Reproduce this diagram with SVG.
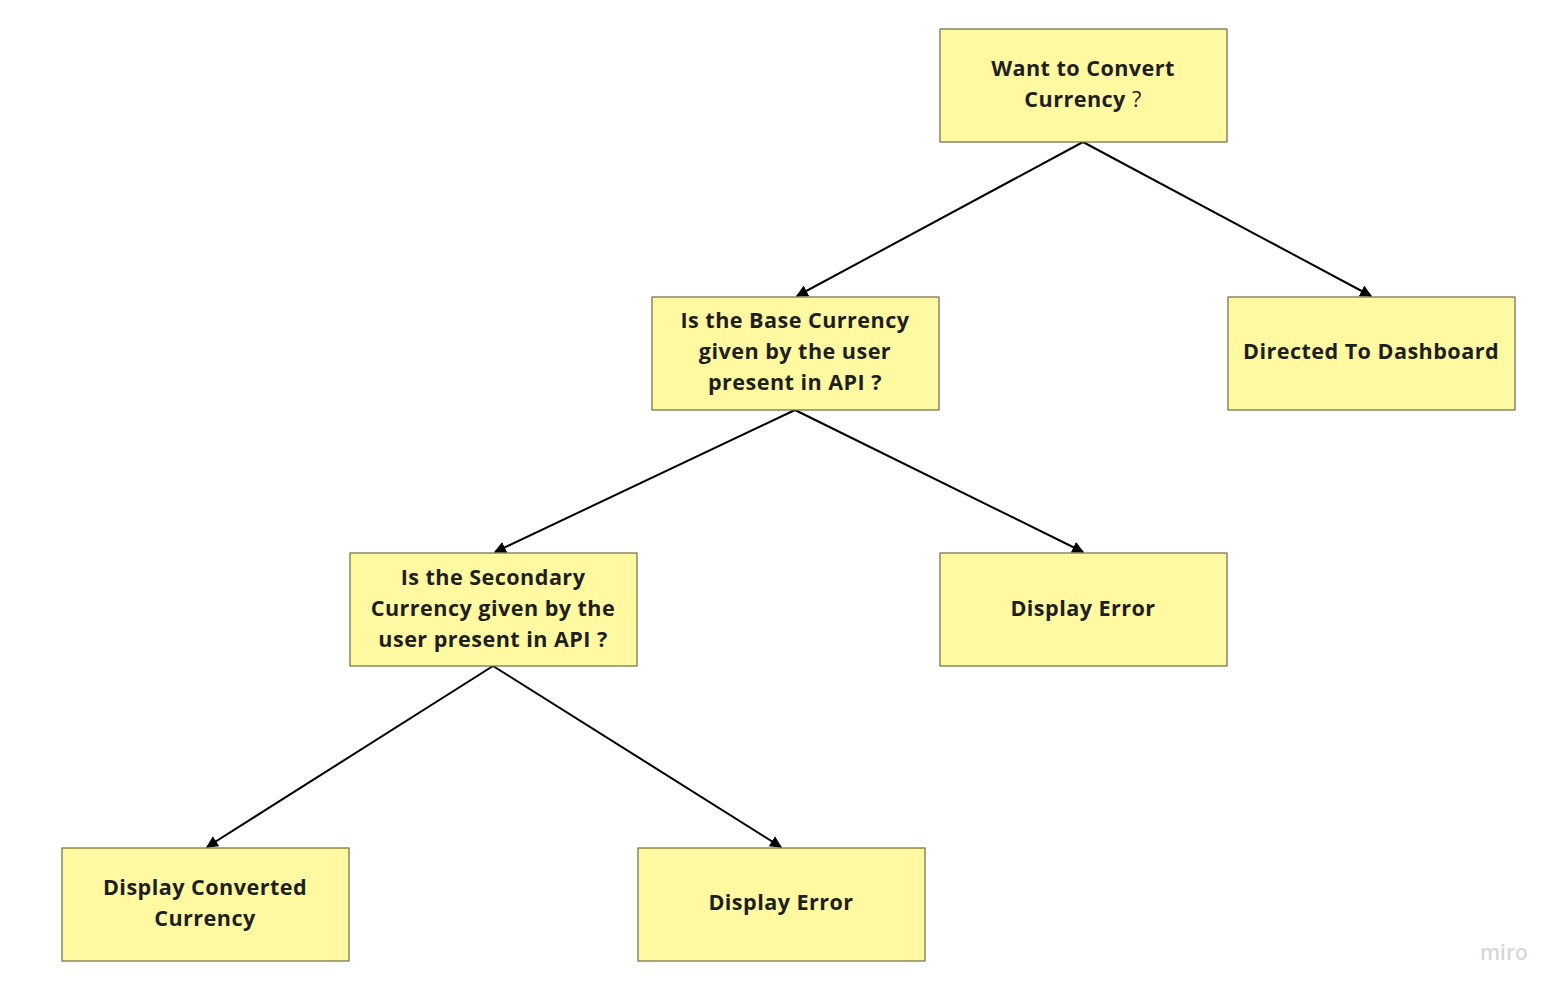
<svg xmlns="http://www.w3.org/2000/svg" width="1567" height="997" viewBox="0 0 1567 997">
<style>
.box{fill:#fff9a1;stroke:#6f6c45;stroke-width:1.2}
.t{font-family:"Open Sans","Noto Sans",sans-serif;font-weight:700;font-size:21.6px;fill:#1f1f1f;text-anchor:middle;letter-spacing:0.45px}
.q{font-weight:400}
.c{stroke:#000;stroke-width:2;fill:none;marker-end:url(#ah)}
.miro{font-family:"Open Sans",sans-serif;font-weight:600;font-size:21px;fill:#d6d6dc}
</style>
<defs>
<marker id="ah" viewBox="0 0 10 10" refX="9" refY="5" markerWidth="6" markerHeight="6" orient="auto" markerUnits="strokeWidth">
<path d="M0,0 L10,5 L0,10 z" fill="#000"/>
</marker>
</defs>
<rect width="1567" height="997" fill="#fff"/>
<g id="connectors">
<line class="c" x1="1083" y1="142" x2="797" y2="296"/>
<line class="c" x1="1083" y1="142" x2="1371" y2="296"/>
<line class="c" x1="795" y1="410" x2="495" y2="552"/>
<line class="c" x1="795" y1="410" x2="1083" y2="552"/>
<line class="c" x1="493" y1="666" x2="207" y2="847"/>
<line class="c" x1="493" y1="666" x2="781" y2="847"/>
</g>
<g id="n1"><rect class="box" x="940" y="29" width="287" height="113"/>
<text class="t" x="1083" y="76">Want to Convert</text>
<text class="t" x="1083" y="107">Currency <tspan class="q">?</tspan></text></g>
<g id="n2"><rect class="box" x="652" y="297" width="287" height="113"/>
<text class="t" x="795" y="328">Is the Base Currency</text>
<text class="t" x="795" y="359">given by the user</text>
<text class="t" x="795" y="390">present in API ?</text></g>
<g id="n3"><rect class="box" x="1228" y="297" width="287" height="113"/>
<text class="t" x="1371" y="359">Directed To Dashboard</text></g>
<g id="n4"><rect class="box" x="350" y="553" width="287" height="113"/>
<text class="t" x="493" y="585">Is the Secondary</text>
<text class="t" x="493" y="616">Currency given by the</text>
<text class="t" x="493" y="647">user present in API ?</text></g>
<g id="n5"><rect class="box" x="940" y="553" width="287" height="113"/>
<text class="t" x="1083" y="616">Display Error</text></g>
<g id="n6"><rect class="box" x="62" y="848" width="287" height="113"/>
<text class="t" x="205" y="895">Display Converted</text>
<text class="t" x="205" y="926">Currency</text></g>
<g id="n7"><rect class="box" x="638" y="848" width="287" height="113"/>
<text class="t" x="781" y="910">Display Error</text></g>
<text class="miro" x="1480" y="960">miro</text>
</svg>
